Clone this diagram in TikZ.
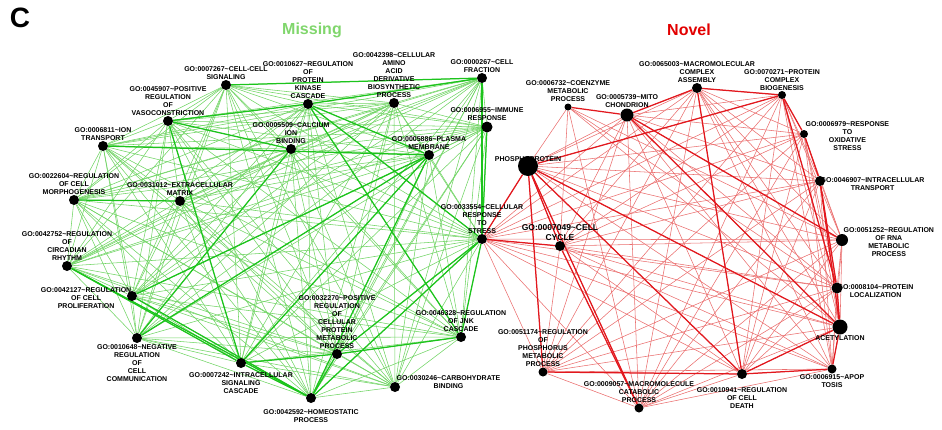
\documentclass[tikz,border=0pt]{standalone}
\usepackage{fontspec}
\setsansfont{Liberation Sans}
\usepackage{xcolor}
\usepackage{tikz}
\usetikzlibrary{positioning, backgrounds}

\definecolor{gline}{RGB}{112,212,100}
\definecolor{gdark}{RGB}{28,196,28}
\definecolor{rline}{RGB}{234,110,110}
\definecolor{rdark}{RGB}{226,24,30}
\definecolor{misscol}{RGB}{128,214,108}
\definecolor{novcol}{RGB}{226,0,0}

\newcommand{\greenset}{cellsig,pkc,aminoacid,fraction,immune,plasma,calcium,vaso,iontr,morph,ecm,circ,prolif,negcomm,intrasig,homeo,posreg,carb,jnk,stress}
\newcommand{\redset}{stress,phospho,mito,macroassy,complexbio,oxid,intratr,rna,protloc,acet,apop,death,macrocat,phosphorus,cycle}

\begin{document}
\begin{tikzpicture}[x=1pt, y=-1pt,
        dot/.style={circle, fill=black, inner sep=0pt, minimum size=10pt},
        lbl/.style={font=\fontsize{7}{8}\selectfont\sffamily\bfseries, align=center, inner sep=0.5pt},
        heading/.style={font=\fontsize{16}{16}\selectfont\sffamily\bfseries},
        gthin/.style={gline, line width=0.55pt},
        gbold/.style={gdark, line width=1.25pt},
        rthin/.style={rline, line width=0.55pt},
        rbold/.style={rdark, line width=1.25pt},
    ]
        \useasboundingbox (0,0) rectangle (942,429);

        % Headings
        \node[font=\fontsize{28}{28}\selectfont\sffamily\bfseries] (panel) at (20,18) {C};
        \node[heading, text=misscol] (missing) at (312,30) {Missing};
        \node[heading, text=novcol] (novel) at (689,30) {Novel};

        % Missing terms
        \node[dot] (cellsig) at (226,85) {};
        \node[dot] (pkc) at (308,104) {};
        \node[dot] (aminoacid) at (394,103) {};
        \node[dot] (fraction) at (482,78) {};
        \node[dot, minimum size=11pt] (immune) at (487,127) {};
        \node[dot] (plasma) at (429,155) {};
        \node[dot] (calcium) at (291,149) {};
        \node[dot] (vaso) at (168,121) {};
        \node[dot] (iontr) at (103,146) {};
        \node[dot] (morph) at (74,200) {};
        \node[dot] (ecm) at (180,201) {};
        \node[dot] (circ) at (67,266) {};
        \node[dot] (prolif) at (132,296) {};
        \node[dot] (negcomm) at (137,338) {};
        \node[dot] (intrasig) at (241,363) {};
        \node[dot] (homeo) at (311,398) {};
        \node[dot] (posreg) at (337,354) {};
        \node[dot] (carb) at (395,387) {};
        \node[dot] (jnk) at (461,337) {};
        \node[dot] (stress) at (482,239) {};

        % Novel terms
        \node[dot, minimum size=20pt] (phospho) at (528,166) {};
        \node[dot, minimum size=7pt] (coenzyme) at (568,107) {};
        \node[dot, minimum size=13pt] (mito) at (627,115) {};
        \node[dot] (macroassy) at (697,88) {};
        \node[dot, minimum size=8pt] (complexbio) at (782,95) {};
        \node[dot, minimum size=8pt] (oxid) at (804,134) {};
        \node[dot] (intratr) at (820,181) {};
        \node[dot, minimum size=12pt] (rna) at (842,240) {};
        \node[dot, minimum size=11pt] (protloc) at (837,288) {};
        \node[dot, minimum size=15pt] (acet) at (840,327) {};
        \node[dot, minimum size=9pt] (apop) at (832,369) {};
        \node[dot] (death) at (742,374) {};
        \node[dot, minimum size=9pt] (macrocat) at (639,408) {};
        \node[dot, minimum size=9pt] (phosphorus) at (543,372) {};
        \node[dot] (cycle) at (560,246) {};

        % Labels, missing
        \node[lbl, above=0pt of cellsig] (cellsig-l) {GO:0007267\textasciitilde CELL-CELL\\SIGNALING};
        \node[lbl, above=0pt of pkc] (pkc-l) {GO:0010627\textasciitilde REGULATION\\OF\\PROTEIN\\KINASE\\CASCADE};
        \node[lbl, above=0pt of aminoacid] (aminoacid-l) {GO:0042398\textasciitilde CELLULAR\\AMINO\\ACID\\DERIVATIVE\\BIOSYNTHETIC\\PROCESS};
        \node[lbl, above=0pt of fraction] (fraction-l) {GO:0000267\textasciitilde CELL\\FRACTION};
        \node[lbl, above=0pt of immune] (immune-l) {GO:0006955\textasciitilde IMMUNE\\RESPONSE};
        \node[lbl, above=0pt of plasma] (plasma-l) {GO:0005886\textasciitilde PLASMA\\MEMBRANE};
        \node[lbl, above=0pt of calcium] (calcium-l) {GO:0005509\textasciitilde CALCIUM\\ION\\BINDING};
        \node[lbl, above=0pt of vaso] (vaso-l) {GO:0045907\textasciitilde POSITIVE\\REGULATION\\OF\\VASOCONSTRICTION};
        \node[lbl, above=0pt of iontr] (iontr-l) {GO:0006811\textasciitilde ION\\TRANSPORT};
        \node[lbl, above=0pt of morph] (morph-l) {GO:0022604\textasciitilde REGULATION\\OF CELL\\MORPHOGENESIS};
        \node[lbl, above=0pt of ecm] (ecm-l) {GO:0031012\textasciitilde EXTRACELLULAR\\MATRIX};
        \node[lbl, above=0pt of circ] (circ-l) {GO:0042752\textasciitilde REGULATION\\OF\\CIRCADIAN\\RHYTHM};
        \node[lbl, anchor=north east] (prolif-l) at ([yshift=9pt]prolif.center) {GO:0042127\textasciitilde REGULATION\\OF CELL\\PROLIFERATION};
        \node[lbl, below=1pt of negcomm] (negcomm-l) {GO:0010648\textasciitilde NEGATIVE\\REGULATION\\OF\\CELL\\COMMUNICATION};
        \node[lbl, below=4pt of intrasig] (intrasig-l) {GO:0007242\textasciitilde INTRACELLULAR\\SIGNALING\\CASCADE};
        \node[lbl, below=6pt of homeo] (homeo-l) {GO:0042592\textasciitilde HOMEOSTATIC\\PROCESS};
        \node[lbl, above=0pt of posreg] (posreg-l) {GO:0032270\textasciitilde POSITIVE\\REGULATION\\OF\\CELLULAR\\PROTEIN\\METABOLIC\\PROCESS};
        \node[lbl, anchor=north west] (carb-l) at ([xshift=1pt, yshift=12pt]carb.center) {GO:0030246\textasciitilde CARBOHYDRATE\\BINDING};
        \node[lbl, above=0pt of jnk] (jnk-l) {GO:0046328\textasciitilde REGULATION\\OF JNK\\CASCADE};
        \node[lbl, above=0pt of stress] (stress-l) {GO:0033554\textasciitilde CELLULAR\\RESPONSE\\TO\\STRESS};

        % Labels, novel
        \node[lbl, above=-6pt of phospho] (phospho-l) {PHOSPHOPROTEIN};
        \node[lbl, above=1pt of coenzyme] (coenzyme-l) {GO:0006732\textasciitilde COENZYME\\METABOLIC\\PROCESS};
        \node[lbl, above=0pt of mito] (mito-l) {GO:0005739\textasciitilde MITO\\CHONDRION};
        \node[lbl, above=0pt of macroassy] (macroassy-l) {GO:0065003\textasciitilde MACROMOLECULAR\\COMPLEX\\ASSEMBLY};
        \node[lbl, above=0pt of complexbio] (complexbio-l) {GO:0070271\textasciitilde PROTEIN\\COMPLEX\\BIOGENESIS};
        \node[lbl, anchor=north west] (oxid-l) at ([xshift=1pt, yshift=13pt]oxid.center) {GO:0006979\textasciitilde RESPONSE\\TO\\OXIDATIVE\\STRESS};
        \node[lbl, anchor=north west] (intratr-l) at ([yshift=4pt]intratr.center) {GO:0046907\textasciitilde INTRACELLULAR\\TRANSPORT};
        \node[lbl, anchor=north west] (rna-l) at ([xshift=1pt, yshift=13pt]rna.center) {GO:0051252\textasciitilde REGULATION\\OF RNA\\METABOLIC\\PROCESS};
        \node[lbl, anchor=north west] (protloc-l) at ([yshift=4pt]protloc.center) {GO:0008104\textasciitilde PROTEIN\\LOCALIZATION};
        \node[lbl, below=0pt of acet] (acet-l) {ACETYLATION};
        \node[lbl, below=0pt of apop] (apop-l) {GO:0006915\textasciitilde APOP\\TOSIS};
        \node[lbl, below=8pt of death] (death-l) {GO:0010941\textasciitilde REGULATION\\OF CELL\\DEATH};
        \node[lbl, above=0pt of macrocat] (macrocat-l) {GO:0009057\textasciitilde MACROMOLECULE\\CATABOLIC\\PROCESS};
        \node[lbl, above=0pt of phosphorus] (phosphorus-l) {GO:0051174\textasciitilde REGULATION\\OF\\PHOSPHORUS\\METABOLIC\\PROCESS};
        \node[lbl, font=\fontsize{8.5}{10}\selectfont\sffamily\bfseries, above=0pt of cycle] (cycle-l) {GO:0007049\textasciitilde CELL\\CYCLE};

        \begin{pgfonlayer}{background}
            % Shared terms, missing
            \foreach \u [count=\i] in \greenset {
                \foreach \v [count=\j] in \greenset {
                    \ifnum\j>\i \draw[gthin] (\u) -- (\v); \fi
                }
            }
            % Shared terms, novel
            \foreach \u [count=\i] in \redset {
                \foreach \v [count=\j] in \redset {
                    \ifnum\j>\i \draw[rthin] (\u) -- (\v); \fi
                }
            }
            \foreach \v in {phospho,cycle,rna,protloc,acet,macrocat}
                \draw[rthin] (coenzyme) -- (\v);

            % Strong overlaps
            \foreach \a/\b in {cellsig/fraction, vaso/pkc, pkc/fraction, iontr/plasma, vaso/calcium,
                    pkc/plasma, pkc/jnk, pkc/stress, plasma/negcomm, plasma/intrasig, plasma/homeo,
                    plasma/prolif, stress/homeo, stress/jnk, stress/posreg, circ/intrasig, circ/homeo,
                    prolif/homeo, intrasig/homeo, intrasig/posreg, posreg/jnk, homeo/posreg,
                    vaso/intrasig, morph/ecm, calcium/negcomm, fraction/stress, immune/stress}
                \draw[gbold] (\a) -- (\b);
            \foreach \a/\b in {coenzyme/mito, mito/macroassy, macroassy/complexbio, phospho/complexbio,
                    phospho/acet, phospho/macrocat, phospho/cycle, phospho/phosphorus, phospho/death,
                    complexbio/oxid, complexbio/protloc, oxid/intratr, intratr/protloc, intratr/acet,
                    protloc/acet, acet/apop, death/apop, death/acet, phosphorus/death, cycle/macrocat,
                    mito/acet, mito/rna, macroassy/death, stress/cycle, stress/phospho}
                \draw[rbold] (\a) -- (\b);
        \end{pgfonlayer}
    \end{tikzpicture}
\end{document}
